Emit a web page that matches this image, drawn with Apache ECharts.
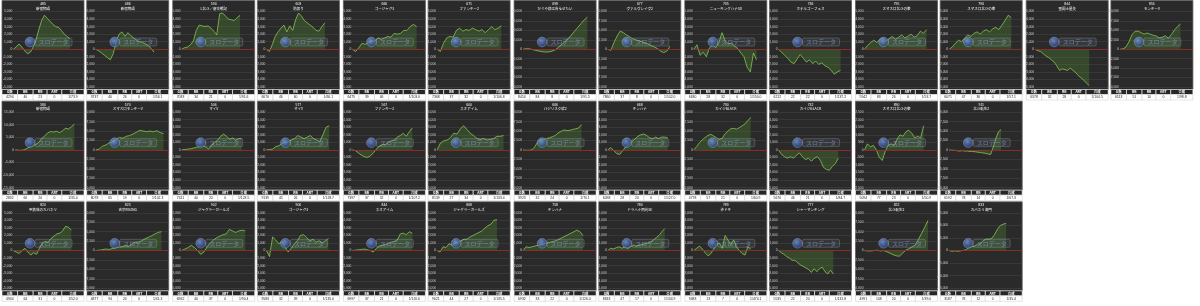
<!DOCTYPE html>
<html><head><meta charset="utf-8">
<script src="https://cdn.jsdelivr.net/npm/echarts@6/dist/echarts.min.js"></script>
<style>html,body{margin:0;padding:0;background:#fff}#c{width:1200px;height:306px}</style>
</head><body><div id="c"></div><script>
// ---------- data ----------
const rowCounts = [14, 12, 12];
const tableHeads = ['G数', 'BB', 'RB', 'ART', '合成'];
const machineNo = ['485','486','594','603','666','671','698','677','735','736','795','796','844','855',
  '580','570','506','577','567','600','666','668','730','732','890','911',
  '820','825','902','906','844','868','758','780','789','777','822','833'];
const machineName = ['新宿物語','新宿物語','L北斗／慶次戦記','防振り','ゴージャグ3','ファンキー2','かぐや様は告らせたい','ヴァルヴレイヴ2','ニューキングハナ30','ホテルゴーフェス','スマスロ北斗の拳','スマスロ北斗の拳','聖闘士星矢','モンキーV',
  '新宿物語','スマスロモンキーV','マイV','マイV','ファンキー2','ネオアイム','バジリスク絆2','キンハナ','カイジBLACK','カイジBLACK','スマスロ北斗の拳','北斗転生2',
  '甲鉄城のカバネリ','吉宗RISING','ジャグラーガールズ','ゴージャグ3','ネオアイム','ジャグラーガールズ','キンハナ','ドラハナ閃光SE','沖ドキ','シャーマンキング','北斗転生2','カバネリ海門'];
const gameCount = [4294,3737,7083,6670,6475,7368,8414,7860,6630,6212,5942,6071,6378,6513,
  2832,8078,7411,9139,7397,8139,3923,6098,4778,5676,5094,6192,
  4944,4877,6962,9583,6997,9621,6932,8633,9483,5535,4991,3187];
const bbCount = [40,40,34,46,39,37,84,37,28,22,83,47,32,51, 60,65,40,45,37,27,32,28,57,46,77,78, 64,94,40,32,37,44,33,47,13,22,108,78];
const rbCount = [23,26,21,60,46,32,8,8,32,22,26,36,28,10, 20,19,20,26,32,34,24,20,21,21,23,14, 31,24,37,39,21,27,22,17,7,20,20,12];
const artCount = [0,0,0,0,0,0,0,0,0,0,0,0,0,0, 0,0,0,0,0,0,0,0,0,0,0,0, 0,0,0,0,0,0,0,0,0,0,0,0];
const combinedProb = ['1/73.9','1/56.1','1/91.6','1/66.1','1/103.0','1/106.8','1/91.5','1/102.0','1/150.0','1/137.2','1/53.7','1/57.1','1/104.5','1/98.8',
  '1/35.4','1/102.3','1/123.5','1/128.7','1/107.2','1/133.4','1/70.1','1/127.0','1/60.9','1/84.7','1/50.9','1/67.3',
  '1/52.0','1/41.3','1/90.4','1/135.0','1/120.6','1/135.5','1/126.0','1/134.9','1/474.1','1/131.8','1/39.0','1/35.4'];
const yAxisMax = [5000,5000,5000,5000,5000,5000,20000,10000,5000,5000,5000,5000,5000,10000,
  15000,10000,5000,5000,5000,5000,10000,5000,10000,5000,2500,10000,
  5000,10000,5000,5000,5000,5000,5000,5000,5000,5000,10000,15000];
const yAxisStep = [1000,1000,1000,1000,1000,1000,5000,2500,1000,1000,1000,1000,1000,2500,
  5000,2500,1000,1000,1000,1000,2500,1000,2500,1000,500,2500,
  1000,2500,1000,1000,1000,1000,1000,1000,1000,1000,2500,5000];
// fraction of the day's x-range reached by each line
const lineEnd = [.80,.80,.80,.80,.88,.88,.88,.85,.86,.85,.85,.85,.74,.83,
  .86,.93,.82,.86,.82,.91,.80,.82,.78,.82,.81,.71,
  .82,.90,.87,.85,.82,.82,.82,.78,.78,.75,.87,.78];
// differential coin counts (evenly spaced samples)
const slump01 = [0,300,700,300,-200,-600,-400,300,1200,2600,3800,4500,4100,3700,3300,3000,2900,2500,2000,1700,1400];
const slump02 = [0,-200,-500,-800,-1100,-1400,-600,1000,2000,2300,1700,2200,1800,1500,1200,1000,900,700,500,100,-400];
const slump03 = [0,200,300,600,1100,2500,3200,3100,3000,3100,2800,2400,1900,4700,4800,4400,4000,3900,3800,4200,4500];
const slump04 = [0,-300,600,1700,2300,2800,3200,2300,3100,2500,3900,4800,4400,3800,3500,3200,2900,2500,2400,3000,3500];
const slump05 = [0,-300,200,800,650,900,1100,1100,1500,1300,1500,1700,1600,2100,2000,2100,2500,2500,3000,3300,3000];
const slump06 = [0,-300,800,1500,1700,1600,2500,2800,2400,2600,2500,2800,2600,2400,2600,2200,2600,3000,2600,2800,3100];
const slump07 = [0,300,200,-200,-600,-1000,-1300,-1500,-1400,-1000,-300,1000,2500,4000,5500,7500,9500,11500,13500,15500,17000];
const slump08 = [0,-300,1800,3500,4800,4400,3800,3300,2800,2500,2200,2000,1700,1400,1000,600,200,-500,-900,-500,800];
const slump09 = [0,600,-800,-400,-1000,200,600,200,900,2200,1100,700,800,400,100,-500,-1000,-2400,-3000,-500,-1400];
const slump10 = [0,-400,-800,-1200,-1700,-1900,-1300,-700,-1200,-1700,-1400,-1900,-1600,-2000,-1800,-2200,-2400,-2800,-3300,-3000,-2800];
const slump11 = [0,500,900,1200,900,1300,1500,1100,1400,1700,1300,1600,1900,1500,1700,2000,1600,1800,2400,2100,2600];
const slump12 = [0,300,800,1200,1000,1500,1900,1700,2100,2300,2000,2400,2600,2300,2700,2900,2600,3200,3800,4500,4200];
const slump13 = [0,-200,-300,-600,-900,-1100,-1400,-1700,-2200,-2800,-2600,-2700,-2800,-2500,-2800,-3100,-3500,-3800,-4100,-4500,-4800];
const slump14 = [0,100,600,2000,3900,4700,4800,4400,4000,4300,4000,3700,3500,3000,3200,3600,2900,3900,5100,6000,6700];
const slump15 = [0,-100,-200,0,600,1300,1600,2200,3000,4600,5500,6800,7300,7100,7400,6900,7600,8600,8300,9200,10200];
const slump16 = [0,200,1000,1300,1900,2100,2800,3300,3100,3600,3800,4200,4700,5200,5000,4800,5000,4800,5100,4600,4300];
const slump17 = [0,50,100,150,250,350,450,550,400,100,600,1000,1300,1800,2100,1800,1400,1600,1300,1500,1500];
const slump18 = [0,50,100,450,550,900,1000,1100,1300,1500,1900,1700,1500,1700,1900,1500,1300,1100,2000,3000,3200];
const slump19 = [0,-100,-400,-700,-900,-1000,-800,-400,100,500,700,700,1000,1200,1300,1700,1900,2200,1800,2400,2900];
const slump20 = [0,900,1200,1300,1600,2200,2100,2800,3200,2700,2200,1900,1500,1400,1500,1300,1400,1500,1800,1800,1900];
const slump21 = [0,-100,-100,0,800,2100,2700,2700,3000,3200,3500,3800,4500,4900,5300,5100,5200,5400,5600,5800,6700];
const slump22 = [0,300,-100,-500,-600,-100,400,700,1100,1400,1800,2000,2100,1900,1600,1500,1700,1500,1700,1700,1600];
const slump23 = [0,900,1900,2700,3300,3900,4100,3700,3200,2800,3100,4300,5000,5600,5700,5500,5900,6400,6900,7800,8600];
const slump24 = [0,-600,-900,-1100,-900,-1100,-700,-400,-900,-1300,-1100,-1500,-1100,-900,-1400,-2300,-2600,-2700,-2200,-1800,-1100];
const slump25 = [0,400,200,300,0,-500,-700,-100,300,400,300,700,1000,900,1200,1300,1100,800,900,800,1600];
const slump26 = [0,-100,-100,-200,-300,-200,-300,-300,-400,-400,-500,-600,-700,-800,-900,-1100,-1200,800,3000,4800,5400];
const slump27 = [0,-200,-400,0,300,-200,-600,-300,-500,300,1000,1200,1100,1600,1900,2200,2300,2600,3200,3100,2700];
const slump28 = [0,100,200,400,300,500,700,900,1000,1300,1100,1700,2200,2000,2600,3100,3500,3900,4400,4800,5000];
const slump29 = [0,200,400,700,400,0,-500,-200,500,1000,1400,1700,1900,2100,2200,2800,2600,2400,2600,2700,2600];
const slump30 = [0,-800,1800,1400,900,1200,500,-200,300,900,1300,2000,2100,1700,1300,1500,1100,1300,1000,1300,1600];
const slump31 = [0,50,100,150,200,100,0,-200,300,600,700,800,900,1100,1200,1400,2200,2300,2100,2500,2300];
const slump32 = [0,-200,500,400,900,700,1000,1100,1300,1500,1500,1800,2000,2200,2400,2600,3000,3300,3500,4000,4100];
const slump33 = [0,500,400,500,600,700,800,900,1000,1100,1200,1300,1500,1700,1900,2100,2300,2500,2700,2500,2000];
const slump34 = [0,300,200,400,500,300,500,300,500,700,600,700,800,900,1000,1100,1400,1700,2000,2500,2900];
const slump35 = [0,300,600,200,-300,-700,-400,200,800,1000,300,2000,1400,800,1400,500,0,-400,-600,500,200];
const slump36 = [0,-300,-500,-800,-1000,-1300,-1300,-1600,-1900,-2100,-2300,-2500,-2900,-2400,-2800,-2400,-2200,-2800,-3100,-2600,-3100];
const slump37 = [0,-100,-100,0,100,-100,0,-300,-700,-1100,-1400,-1500,-700,100,500,1000,1400,3000,4600,6200,8000];
const slump38 = [0,-300,-100,-300,-100,100,300,1300,1500,1800,2500,2800,4000,4600,4500,4900,6500,8600,10000,10500,10800];
const slumps = [slump01,slump02,slump03,slump04,slump05,slump06,slump07,slump08,slump09,slump10,slump11,slump12,slump13,slump14,
  slump15,slump16,slump17,slump18,slump19,slump20,slump21,slump22,slump23,slump24,slump25,slump26,
  slump27,slump28,slump29,slump30,slump31,slump32,slump33,slump34,slump35,slump36,slump37,slump38];

// ---------- layout ----------
const BLOCK_W = 170.7, PANEL_STEP = 84.7, PANEL_W = 82, ROW_H = 100.65;
const FONT = '"Liberation Sans", "Noto Sans CJK JP", sans-serif';
const JP = '"Noto Sans CJK JP", sans-serif';
const colFrac = [0.19, 0.19, 0.17, 0.18, 0.27];

const grids = [], xAxes = [], yAxes = [], series = [], graphics = [];
let k = 0;
rowCounts.forEach((cnt, row) => {
  for (let i = 0; i < cnt; i++, k++) {
    const px = Math.floor(i / 2) * BLOCK_W + 2 + (i % 2) * PANEL_STEP;
    const py = row * ROW_H;
    graphics.push({type: 'rect', z: -10, silent: true,
      shape: {x: px, y: py + 0.5, width: PANEL_W, height: 89},
      style: {fill: '#2a2a2a', stroke: '#5c5c5c', lineWidth: 0.8}});
    graphics.push({type: 'text', z: 5, silent: true, x: px + PANEL_W / 2, y: py + 4,
      style: {text: machineNo[k], fill: '#ffffff', fontSize: 3.4, fontFamily: FONT, align: 'center', verticalAlign: 'middle'}});
    graphics.push({type: 'text', z: 5, silent: true, x: px + PANEL_W / 2, y: py + 8.2,
      style: {text: machineName[k], fill: '#ffffff', fontSize: 3.5, fontFamily: JP, align: 'center', verticalAlign: 'middle'}});
    // watermark logo
    graphics.push({type: 'circle', z: 20, silent: true, shape: {cx: px + 28, cy: py + 42, r: 4.8},
      style: {fill: new echarts.graphic.RadialGradient(0.4, 0.35, 0.7, [
        {offset: 0, color: 'rgba(130,170,240,0.7)'}, {offset: 1, color: 'rgba(30,55,130,0.7)'}]),
        stroke: 'rgba(200,210,230,0.55)', lineWidth: 0.6}});
    graphics.push({type: 'rect', z: 20, silent: true, shape: {x: px + 33, y: py + 38, width: 37, height: 8, r: 1.5},
      style: {fill: 'rgba(160,175,200,0.10)', stroke: 'rgba(200,205,220,0.4)', lineWidth: 0.6}});
    graphics.push({type: 'text', z: 21, silent: true, x: px + 51.5, y: py + 42,
      style: {text: 'スロデータ', fill: 'rgba(140,165,215,0.45)', fontSize: 6, fontWeight: 'bold', fontFamily: JP, align: 'center', verticalAlign: 'middle'}});
    // table
    const vals = [String(gameCount[k]), String(bbCount[k]), String(rbCount[k]), String(artCount[k]), combinedProb[k]];
    let cx = px;
    colFrac.forEach((f, c) => {
      const w = f * PANEL_W;
      graphics.push({type: 'rect', z: -5, silent: true, shape: {x: cx, y: py + 89.5, width: w, height: 5},
        style: {fill: '#262626', stroke: '#ffffff', lineWidth: 0.6}});
      graphics.push({type: 'text', z: 5, silent: true, x: cx + w / 2, y: py + 92,
        style: {text: tableHeads[c], fill: '#ffffff', fontSize: 3.4, fontWeight: 'bold', fontFamily: JP, align: 'center', verticalAlign: 'middle'}});
      graphics.push({type: 'rect', z: -5, silent: true, shape: {x: cx, y: py + 94.5, width: w, height: 5.5},
        style: {fill: '#ffffff', stroke: '#c8c8c8', lineWidth: 0.5}});
      graphics.push({type: 'text', z: 5, silent: true, x: cx + w / 2, y: py + 97.3,
        style: {text: vals[c], fill: '#222222', fontSize: 3.4, fontFamily: FONT, align: 'center', verticalAlign: 'middle'}});
      cx += w;
    });
    grids.push({left: px + 9, top: py + 11.5, width: 73, height: 75.5, containLabel: false});
    xAxes.push({gridIndex: k, type: 'value', min: 0, max: 100, show: false});
    yAxes.push({gridIndex: k, type: 'value', min: -yAxisMax[k], max: yAxisMax[k], interval: yAxisStep[k],
      axisLine: {show: false}, axisTick: {show: false},
      axisLabel: {fontSize: 3.3, color: '#d0d0d0', margin: 1, fontFamily: FONT,
        formatter: v => v.toLocaleString('en-US')},
      splitLine: {lineStyle: {color: '#474747', width: 0.5}}});
    const d = slumps[k];
    series.push({type: 'line', xAxisIndex: k, yAxisIndex: k, symbol: 'none', animation: false,
      data: d.map((v, j) => [j / (d.length - 1) * lineEnd[k] * 100, v]),
      lineStyle: {color: '#93d85a', width: 0.7},
      areaStyle: {color: 'rgba(85,150,55,0.42)'},
      markLine: {silent: true, symbol: 'none', animation: false, label: {show: false},
        lineStyle: {color: '#9c2a22', width: 0.8, type: 'solid'}, data: [{yAxis: 0}]}});
  }
});

const chart = echarts.init(document.getElementById('c'), null, {renderer: 'canvas'});
chart.setOption({backgroundColor: '#ffffff', animation: false,
  grid: grids, xAxis: xAxes, yAxis: yAxes, series: series, graphic: graphics});
</script></body></html>
